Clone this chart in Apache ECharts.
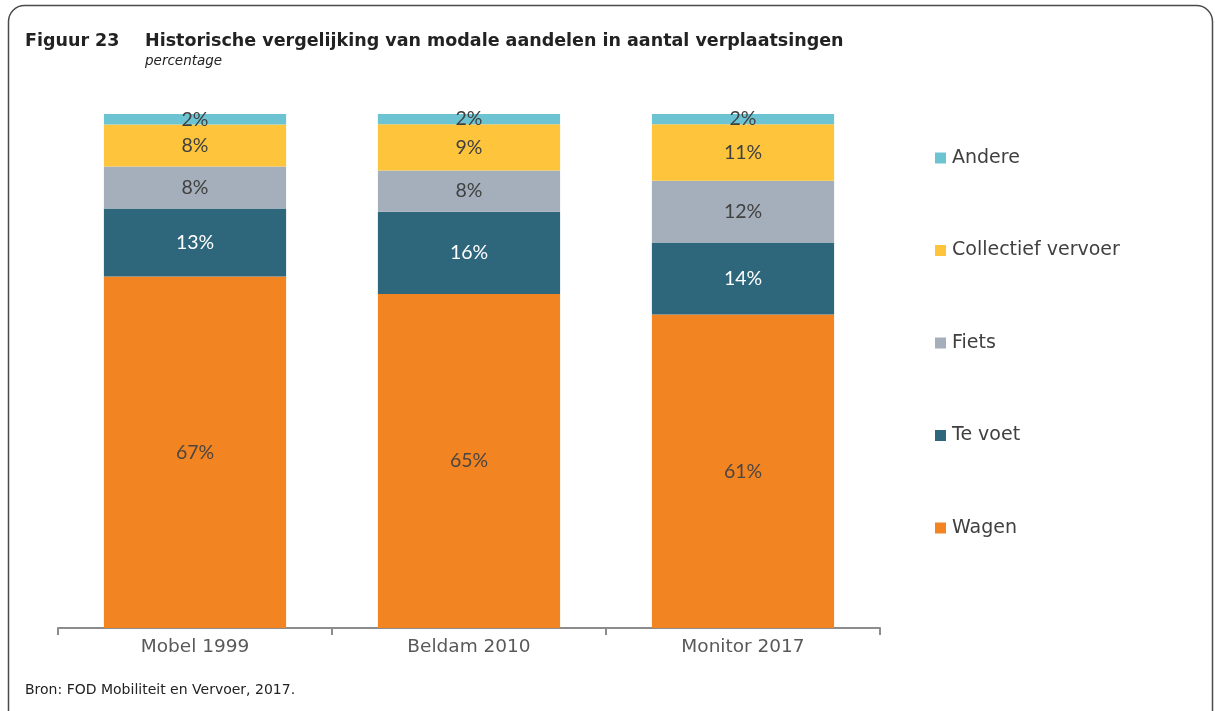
<!DOCTYPE html>
<html>
<head>
<meta charset="utf-8">
<script src="https://cdn.jsdelivr.net/npm/echarts@6/dist/echarts.min.js"></script>
<style>
  html, body { margin: 0; padding: 0; background: #ffffff; }
  #chart { width: 1215px; height: 711px; }
</style>
</head>
<body>
<div id="chart"></div>
<script>
// Survey years
const categories = ['Mobel 1999', 'Beldam 2010', 'Monitor 2017'];

// Modal shares (%), as published per survey
const wagen = [67, 65, 61];
const teVoet = [13, 16, 14];
const fiets = [8, 8, 12];
const collectief = [8, 9, 11];
const andere = [2, 2, 2];

const seriesNames = ['Wagen', 'Te voet', 'Fiets', 'Collectief vervoer', 'Andere'];
const seriesValues = [wagen, teVoet, fiets, collectief, andere];
const seriesColors = ['#F28522', '#2E677C', '#A5AFBC', '#FEC53C', '#6CC4D2'];
const labelColors = ['#4d4540', '#ffffff', '#404040', '#404040', '#404040'];

// Each bar is shown as a 100% stack: shares are scaled by the survey's total
const totals = categories.map((_, i) => seriesValues.reduce((s, arr) => s + arr[i], 0));

const baseFont = '"DejaVu Sans", Verdana, sans-serif';
const labelFont = 'Lato, "Open Sans", sans-serif';

const chart = echarts.init(document.getElementById('chart'), null, { renderer: 'canvas' });

chart.setOption({
  animation: false,
  backgroundColor: '#ffffff',
  title: [
    {
      text: 'Figuur 23',
      left: 20, top: 27,
      textStyle: { fontFamily: baseFont, fontWeight: 'bold', fontSize: 17.5, color: '#222222' }
    },
    {
      text: 'Historische vergelijking van modale aandelen in aantal verplaatsingen',
      left: 140, top: 27,
      textStyle: { fontFamily: baseFont, fontWeight: 'bold', fontSize: 17.5, color: '#222222' }
    },
    {
      text: 'percentage',
      left: 140, top: 49,
      textStyle: { fontFamily: baseFont, fontStyle: 'italic', fontWeight: 'normal', fontSize: 13.5, color: '#222222' }
    },
    {
      text: 'Bron: FOD Mobiliteit en Vervoer, 2017.',
      left: 20, top: 678,
      textStyle: { fontFamily: baseFont, fontWeight: 'normal', fontSize: 14, color: '#222222' }
    }
  ],
  graphic: [
    {
      type: 'rect',
      silent: true,
      shape: { x: 8.5, y: 5.5, width: 1204, height: 760, r: 16 },
      style: { fill: 'none', stroke: '#4a4a4a', lineWidth: 1.5 }
    }
  ],
  legend: {
    orient: 'vertical',
    left: 930,
    top: 143,
    itemWidth: 11,
    itemHeight: 11,
    itemGap: 72.5,
    icon: 'rect',
    data: ['Andere', 'Collectief vervoer', 'Fiets', 'Te voet', 'Wagen'],
    textStyle: { fontFamily: baseFont, fontSize: 19, color: '#404040', lineHeight: 20, padding: [0, 0, 0, 1] }
  },
  grid: { left: 58, right: 335, top: 114, bottom: 83, containLabel: false },
  xAxis: {
    type: 'category',
    data: categories,
    axisLine: { lineStyle: { color: '#8c8c8c', width: 2 } },
    axisTick: { show: true, inside: false, length: 7, lineStyle: { color: '#8c8c8c', width: 2 } },
    axisLabel: { fontFamily: baseFont, fontSize: 18.5, color: '#595959', margin: 10 }
  },
  yAxis: {
    type: 'value',
    min: 0, max: 100,
    show: false,
    splitLine: { show: false }
  },
  series: seriesNames.map((name, k) => ({
    name: name,
    type: 'bar',
    stack: 'aandeel',
    barWidth: '66.5%',
    itemStyle: { color: seriesColors[k] },
    label: {
      show: true,
      position: 'inside',
      fontFamily: labelFont,
      fontSize: 19.5,
      color: labelColors[k],
      formatter: (p) => seriesValues[k][p.dataIndex] + '%'
    },
    data: seriesValues[k].map((v, i) => v / totals[i] * 100)
  }))
});
</script>
</body>
</html>
